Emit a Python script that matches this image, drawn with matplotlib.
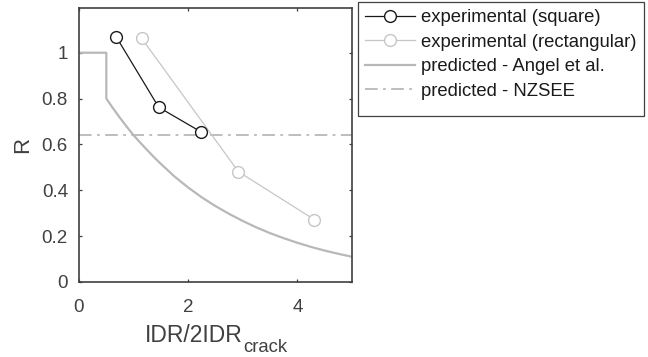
import matplotlib
matplotlib.use("Agg")
import matplotlib.pyplot as plt
from matplotlib.patches import Rectangle

plt.rcParams["font.family"] = ["Liberation Sans", "DejaVu Sans"]

# ---- data ---------------------------------------------------------
sq_x = [0.68, 1.46, 2.24]
sq_r = [1.07, 0.762, 0.654]

rect_x = [1.15, 2.92, 4.31]
rect_r = [1.062, 0.481, 0.272]

angel_x = [0.0, 0.5, 0.5, 0.625, 0.75, 0.875, 1.0, 1.125, 1.25, 1.375, 1.5, 1.75,
           2.0, 2.25, 2.5, 2.75, 3.0, 3.25, 3.5, 3.75, 4.0, 4.25, 4.5, 4.75, 5.0]
angel_r = [1.0, 1.0, 0.80, 0.757, 0.716, 0.677, 0.640, 0.607, 0.575, 0.544, 0.515, 0.460,
           0.412, 0.369, 0.331, 0.297, 0.266, 0.238, 0.213, 0.191, 0.171, 0.153, 0.137, 0.123, 0.110]

nzsee_x = [0.0, 5.0]
nzsee_r = [0.64, 0.64]

x_ticks = [0, 2, 4]
y_ticks = [0, 0.2, 0.4, 0.6, 0.8, 1.0]
y_ticklabels = ["0", "0.2", "0.4", "0.6", "0.8", "1"]
# -------------------------------------------------------------------

AX_COL = "#404040"
W, H = 648, 357

fig = plt.figure(figsize=(W / 100, H / 100), dpi=100)
ax = fig.add_axes([79 / W, 75 / H, 273 / W, 274 / H])

ax.plot(sq_x, sq_r, color="#1a1a1a", lw=0.9, marker="o", ms=8.5,
        mfc="white", mec="#1a1a1a", mew=1.0, label="experimental (square)", zorder=4)
ax.plot(rect_x, rect_r, color="#c6c6c6", lw=0.9, marker="o", ms=8.5,
        mfc="white", mec="#c6c6c6", mew=1.0, label="experimental (rectangular)", zorder=3)
ax.plot(angel_x, angel_r, color="#b8b8b8", lw=1.6,
        label="predicted - Angel et al.", zorder=2)
ax.plot(nzsee_x, nzsee_r, color="#b8b8b8", lw=1.3, ls=(0, (7, 3, 1.5, 3)),
        label="predicted - NZSEE", zorder=2)

ax.set_xlim(0, 5)
ax.set_ylim(0, 1.195)
ax.set_xticks(x_ticks)
ax.set_yticks(y_ticks)
ax.set_yticklabels(y_ticklabels)
ax.tick_params(direction="in", length=2.5, width=0.9, colors=AX_COL,
               labelsize=13.5, top=True, right=True)
ax.tick_params(axis="x", pad=12)
ax.tick_params(axis="y", pad=8)
for s in ax.spines.values():
    s.set_color(AX_COL)
    s.set_linewidth(1.2)

ax.set_ylabel("R", fontsize=16, color=AX_COL, labelpad=6)

# x label: main text + lowered subscript, placed in pixels
main = fig.text(145 / W, 1 - 341.5 / H, "IDR/2IDR", fontsize=16.5, color=AX_COL,
                ha="left", va="baseline")
fig.canvas.draw()
bb = main.get_window_extent()
fig.text((bb.x1 + 1) / W, 1 - 351.5 / H, "crack", fontsize=13.3, color=AX_COL,
         ha="left", va="baseline")

leg = fig.legend(loc="upper left", bbox_to_anchor=(358 / W, 1 - 2 / H),
                 fontsize=13.3, frameon=False, borderaxespad=0,
                 handlelength=2.7, handletextpad=0.3, labelspacing=0.4,
                 borderpad=0.4)
for t in leg.get_texts():
    t.set_color("#1a1a1a")

# legend box with the taller bottom margin of the original
fig.canvas.draw()
lb = leg.get_window_extent()
box_top, box_bot = H - 2, H - 116
fig.patches.append(Rectangle((lb.x0 / W, box_bot / H), (lb.x1 - lb.x0) / W,
                             (box_top - box_bot) / H, transform=fig.transFigure,
                             fill=False, edgecolor=AX_COL, lw=0.9))

fig.savefig("out.png", dpi=100)
